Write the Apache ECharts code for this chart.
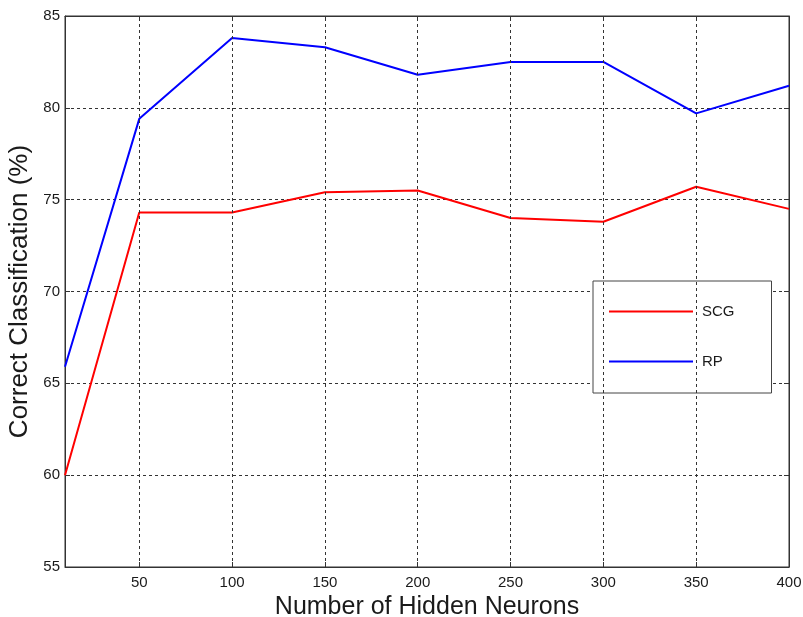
<!DOCTYPE html>
<html>
<head>
<meta charset="utf-8">
<script src="https://cdn.jsdelivr.net/npm/echarts@6/dist/echarts.min.js"></script>
<style>
  html, body { margin: 0; padding: 0; background: #fff; }
  #chart { width: 803px; height: 617px; }
</style>
</head>
<body>
<div id="chart"></div>
<script>
// hidden neurons on the x axis
var neurons = [10, 50, 100, 150, 200, 250, 300, 350, 400];
var scg = [60.0, 74.3, 74.3, 75.4, 75.5, 74.0, 73.8, 75.7, 74.5];
var rp = [65.9, 79.4, 83.8, 83.3, 81.8, 82.5, 82.5, 79.7, 81.2];
var xTicks = [50, 100, 150, 200, 250, 300, 350, 400];
var gridX = [50, 100, 150, 200, 250, 300, 350];

var chart = echarts.init(document.getElementById('chart'));

function pairs(xs, ys) {
    var out = [];
    for (var i = 0; i < xs.length; i++) out.push([xs[i], ys[i]]);
    return out;
}

var fontFam = 'Liberation Sans, Arial, sans-serif';
var txt = '#1a1a1a';
var dash = { color: '#333', type: [3, 3], width: 1 };

var option = {
    animation: false,
    grid: {
        left: 65, right: 14, top: 16, bottom: 50,
        outerBoundsMode: 'none', containLabel: false,
        show: true, borderColor: '#333', borderWidth: 1
    },
    legend: {
        orient: 'vertical',
        left: 593, top: 281,
        itemWidth: 84, itemHeight: 14, itemGap: 35,
        padding: [23, 37, 24, 16],
        borderColor: '#444', borderWidth: 1,
        backgroundColor: '#fff',
        icon: 'path://M0,6 L84,6 L84,8 L0,8 Z',
        textStyle: { fontFamily: fontFam, fontSize: 15, color: txt, padding: [0, 0, 0, 4] },
        data: ['SCG', 'RP']
    },
    xAxis: [{
        type: 'value', min: 10, max: 400,
        name: 'Number of Hidden Neurons', nameLocation: 'middle', nameGap: 24,
        nameTextStyle: { fontFamily: fontFam, fontSize: 25, color: txt },
        axisLine: { lineStyle: { color: '#333' } },
        axisTick: { inside: true, length: 5, lineStyle: { color: '#333' }, customValues: xTicks },
        axisLabel: { fontFamily: fontFam, fontSize: 15, color: txt, margin: 8, customValues: xTicks },
        splitLine: { show: false }
    }, {
        type: 'value', min: 10, max: 400, position: 'top',
        axisLine: { lineStyle: { color: '#333' } },
        axisTick: { inside: true, length: 5, lineStyle: { color: '#333' }, customValues: xTicks },
        axisLabel: { show: false },
        splitLine: { show: false }
    }],
    yAxis: [{
        type: 'value', min: 55, max: 85, interval: 5,
        name: 'Correct Classification (%)', nameLocation: 'middle', nameGap: 30,
        nameTextStyle: { fontFamily: fontFam, fontSize: 26, color: txt },
        axisLine: { show: true, lineStyle: { color: '#333' } },
        axisTick: { show: true, inside: true, length: 5, lineStyle: { color: '#333' } },
        axisLabel: { fontFamily: fontFam, fontSize: 15, color: txt, margin: 5 },
        splitLine: { show: true, lineStyle: dash }
    }, {
        type: 'value', min: 55, max: 85, interval: 5, position: 'right',
        axisLine: { show: true, lineStyle: { color: '#333' } },
        axisTick: { show: true, inside: true, length: 5, lineStyle: { color: '#333' } },
        axisLabel: { show: false },
        splitLine: { show: false }
    }],
    series: [{
        name: 'SCG', type: 'line', showSymbol: false,
        color: '#ff0000',
        lineStyle: { width: 2, color: '#ff0000' },
        data: pairs(neurons, scg),
        markLine: {
            silent: true, symbol: 'none', label: { show: false },
            lineStyle: dash,
            data: gridX.map(function (v) { return { xAxis: v }; })
        }
    }, {
        name: 'RP', type: 'line', showSymbol: false,
        color: '#0000ff',
        lineStyle: { width: 2, color: '#0000ff' },
        data: pairs(neurons, rp)
    }]
};
chart.setOption(option);
</script>
</body>
</html>
